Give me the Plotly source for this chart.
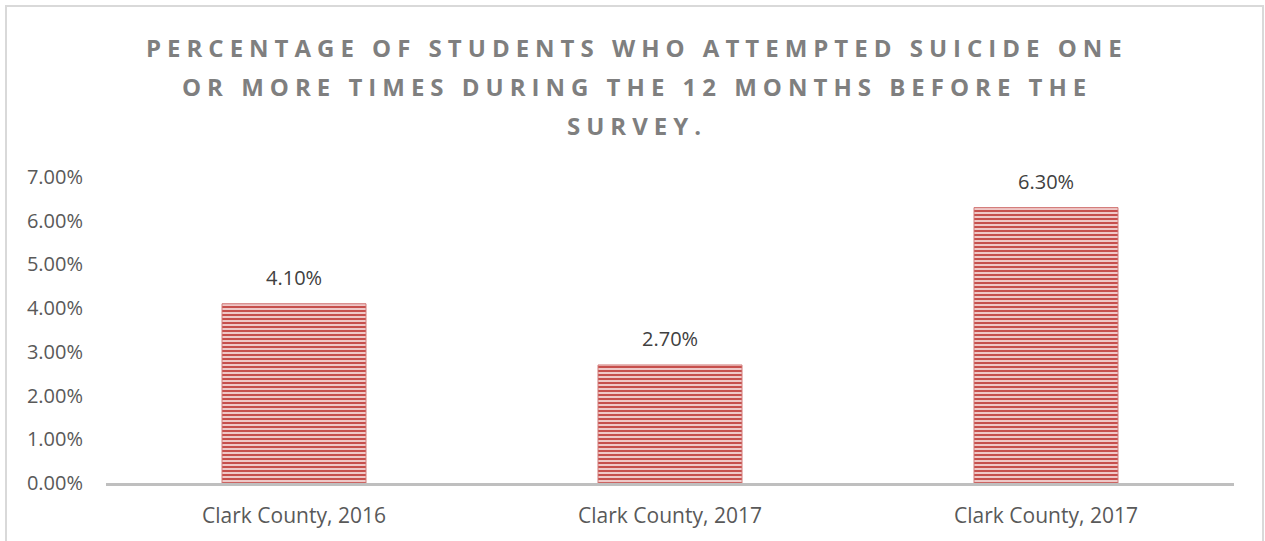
import plotly.graph_objects as go

categories = ["Clark County, 2016", "Clark County, 2017", "Clark County, 2017"]
values = [4.10, 2.70, 6.30]
y_ticks = [0, 1, 2, 3, 4, 5, 6, 7]
title_lines = [
    "PERCENTAGE OF STUDENTS WHO ATTEMPTED SUICIDE ONE",
    "OR MORE TIMES DURING THE 12 MONTHS BEFORE THE",
    "SURVEY.",
]

W, H = 1265, 541
ML, MR, MT, MB = 106, 31, 177, 58
PW, PH = W - ML - MR, H - MT - MB

def px_to_paper_x(px):
    return (px - ML) / PW

def px_to_paper_y(py):
    return (H - MB - py) / PH

x_pos = list(range(len(categories)))

fig = go.Figure()
fig.add_trace(go.Bar(
    x=x_pos, y=values, width=0.383,
    marker=dict(
        color="#efc3c2",
        line=dict(color="#d27a78", width=1),
        pattern=dict(shape="-", fgcolor="#c64f4c", bgcolor="#efc8c7",
                     size=4, solidity=0.5, fillmode="replace"),
    ),
    hoverinfo="skip",
))

annotations = []
for xi, v in zip(x_pos, values):
    annotations.append(dict(
        x=xi, y=v, xref="x", yref="y", text=f"{v:.2f}%", showarrow=False,
        yanchor="middle", yshift=26,
        font=dict(family="Open Sans", size=20, color="#404040"),
    ))

title_y_px = [48, 87, 126]
for line, py in zip(title_lines, title_y_px):
    annotations.append(dict(
        x=px_to_paper_x(637), y=px_to_paper_y(py), xref="paper", yref="paper",
        text=line, showarrow=False, xanchor="center", yanchor="middle",
        font=dict(family="Open Sans", size=24, color="#7f7f7f", weight="bold"),
    ))

fig.update_layout(
    width=W, height=H,
    margin=dict(l=ML, r=MR, t=MT, b=MB, pad=0, autoexpand=False),
    paper_bgcolor="white", plot_bgcolor="white",
    showlegend=False,
    annotations=annotations,
    shapes=[dict(
        type="rect", xref="paper", yref="paper",
        x0=px_to_paper_x(6), x1=px_to_paper_x(1263),
        y0=px_to_paper_y(600), y1=px_to_paper_y(6),
        line=dict(color="#d9d9d9", width=2), fillcolor="rgba(0,0,0,0)",
        layer="below",
    )],
    xaxis=dict(
        range=[-0.5, len(categories) - 0.5],
        tickvals=x_pos, ticktext=categories,
        showline=True, linecolor="#bfbfbf", linewidth=3,
        showgrid=False, zeroline=False, ticks="",
        ticklabelstandoff=12, automargin=False,
        tickfont=dict(family="Open Sans", size=21, color="#595959"),
    ),
    yaxis=dict(
        range=[0, 7], tickvals=y_ticks,
        ticktext=[f"{t:.2f}%" for t in y_ticks],
        showline=False, showgrid=False, zeroline=False, ticks="",
        ticklabelstandoff=22, automargin=False,
        tickfont=dict(family="Open Sans", size=20, color="#595959"),
    ),
)

post = """
(function(){
  document.body.style.margin = '0';
  document.body.style.overflow = 'hidden';
  var gd = document.getElementById('{plot_id}');
  function apply(){
    document.querySelectorAll('.annotation-text').forEach(function(e){
      if (/[A-Z]{3,}/.test(e.textContent) && e.textContent.indexOf('%') < 0) {
        e.style.letterSpacing = '6px';
      }
    });
  }
  apply();
  setTimeout(apply, 50);
  if (gd && gd.on) gd.on('plotly_afterplot', apply);
})();
"""

fig.write_html("out.html", post_script=post, config={"displayModeBar": False})
